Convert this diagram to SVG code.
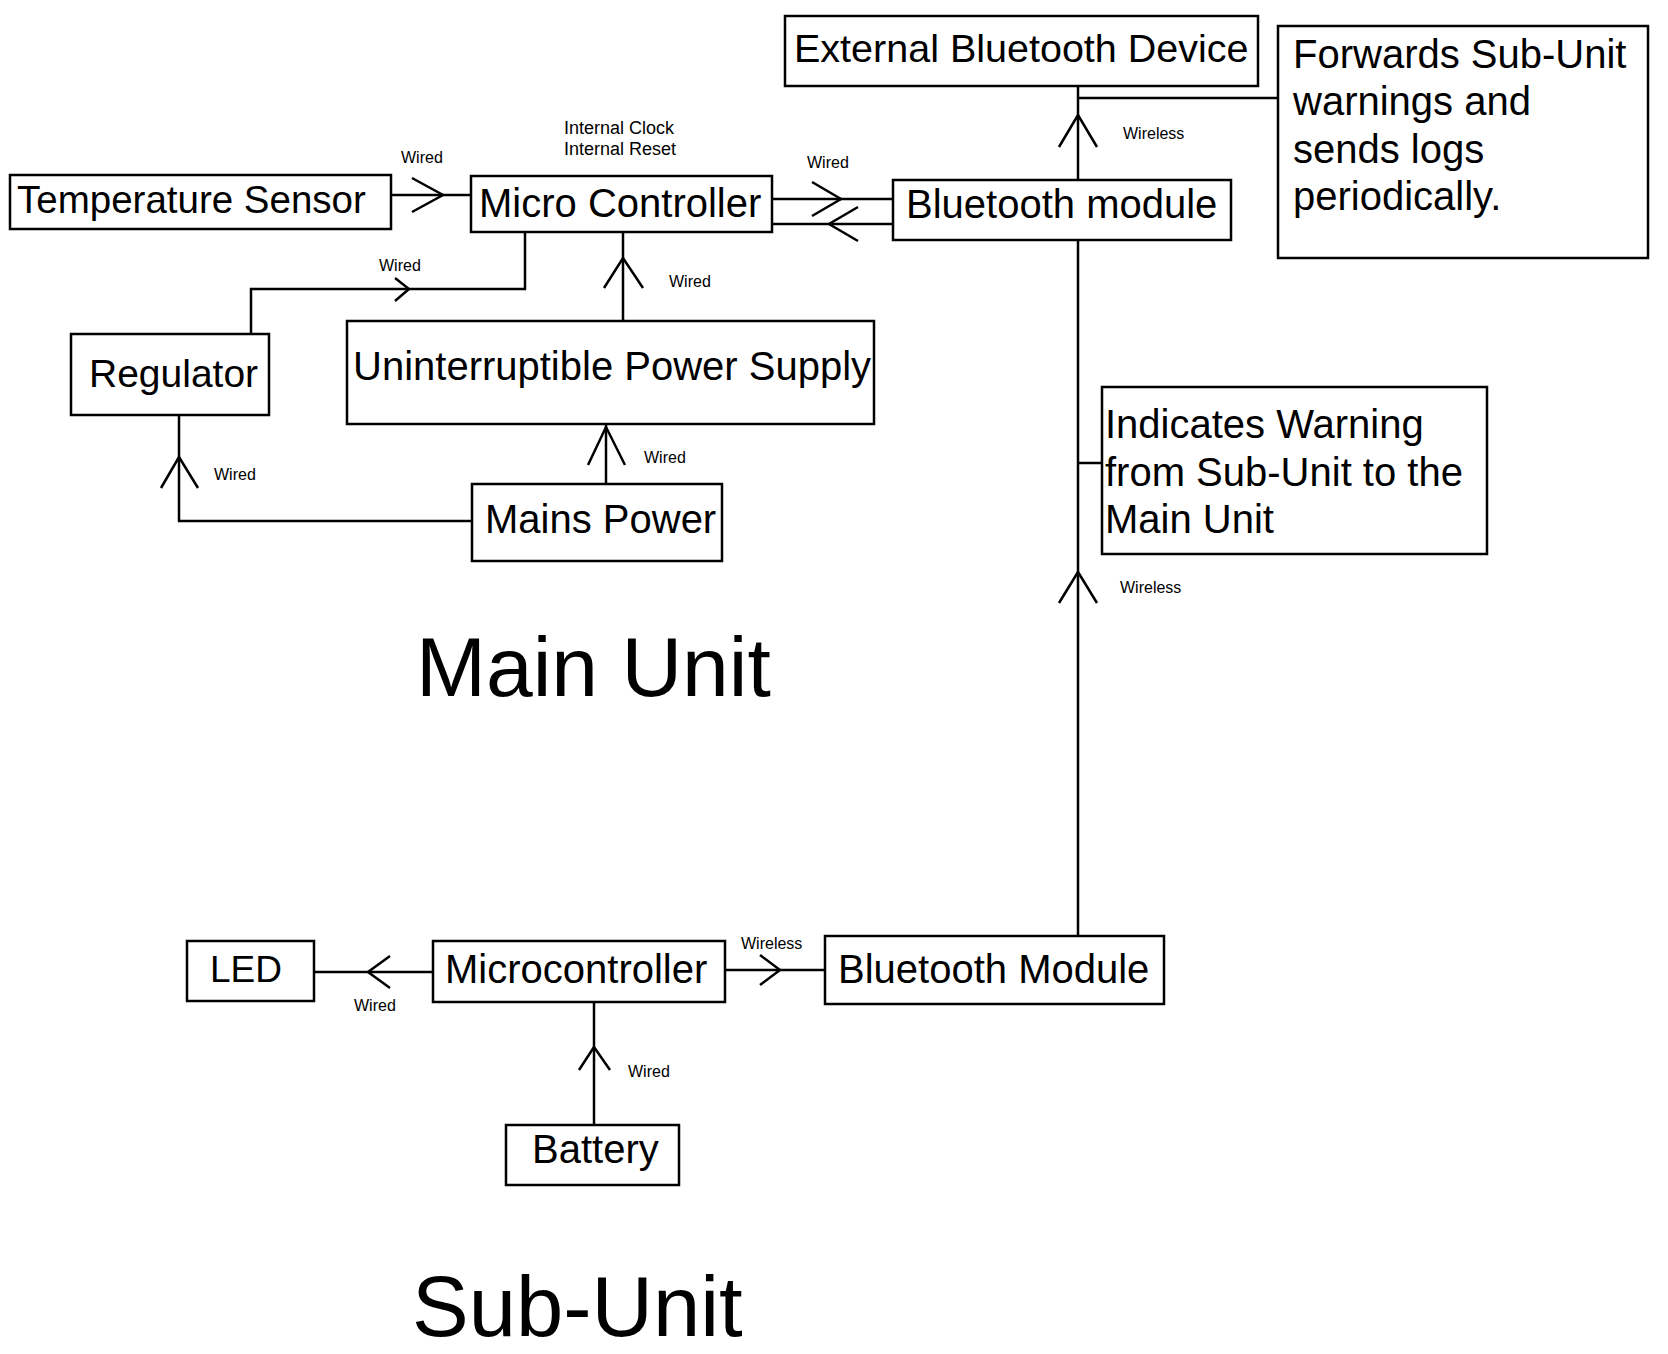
<svg xmlns="http://www.w3.org/2000/svg" width="1668" height="1354" viewBox="0 0 1668 1354">
<style>
.box{fill:#fff;stroke:#000;stroke-width:2.5}
.ln{fill:none;stroke:#000;stroke-width:2.5}
.ah{fill:none;stroke:#000;stroke-width:2.5;stroke-linejoin:miter}
text{font-family:"Liberation Sans",Arial,Helvetica,sans-serif;fill:#000}
.t{font-size:40px}
.s{font-size:16px}
.c{font-size:18px}
.big{font-size:84px}
</style>
<rect width="1668" height="1354" fill="#fff"/>
<g id="connectors">
<line class="ln" x1="391" y1="195" x2="471" y2="195"/>
<polyline class="ah" points="412,178 443,195 412,212"/>
<text class="s" x="401" y="163">Wired</text>
<line class="ln" x1="772" y1="199" x2="893" y2="199"/>
<polyline class="ah" points="812,182 841,199 812,216"/>
<line class="ln" x1="772" y1="224" x2="893" y2="224"/>
<polyline class="ah" points="858,207 829,224 858,241"/>
<text class="s" x="807" y="168">Wired</text>
<polyline class="ln" points="251,334 251,289 525,289 525,232"/>
<polyline class="ah" points="395,278 409,289 395,301"/>
<text class="s" x="379" y="271">Wired</text>
<line class="ln" x1="623" y1="321" x2="623" y2="232"/>
<polyline class="ah" points="604,288 623,258 643,288"/>
<text class="s" x="669" y="287">Wired</text>
<line class="ln" x1="606" y1="484" x2="606" y2="424"/>
<polyline class="ah" points="588,465 606,427 625,465"/>
<text class="s" x="644" y="463">Wired</text>
<polyline class="ln" points="472,521 179,521 179,415"/>
<polyline class="ah" points="161,488 179,457 198,488"/>
<text class="s" x="214" y="480">Wired</text>
<line class="ln" x1="1078" y1="180" x2="1078" y2="86"/>
<polyline class="ah" points="1059,147 1078,115 1097,147"/>
<text class="s" x="1123" y="139">Wireless</text>
<line class="ln" x1="1078" y1="98" x2="1278" y2="98"/>
<line class="ln" x1="1078" y1="936" x2="1078" y2="240"/>
<polyline class="ah" points="1059,603 1078,572 1097,603"/>
<text class="s" x="1120" y="593">Wireless</text>
<line class="ln" x1="1078" y1="463" x2="1102" y2="463"/>
<line class="ln" x1="314" y1="972" x2="433" y2="972"/>
<polyline class="ah" points="390,956 368,972 390,988"/>
<text class="s" x="354" y="1011">Wired</text>
<line class="ln" x1="725" y1="970" x2="825" y2="970"/>
<polyline class="ah" points="760,955 780,970 760,985"/>
<text class="s" x="741" y="949">Wireless</text>
<line class="ln" x1="594" y1="1125" x2="594" y2="1002"/>
<polyline class="ah" points="579,1070 594,1047 610,1070"/>
<text class="s" x="628" y="1077">Wired</text>
</g>
<g id="temperature-sensor">
<rect class="box" x="10" y="175" width="381" height="54"/>
<text class="t" x="17" y="213" style="font-size:38.5px">Temperature Sensor</text>
</g>
<g id="micro-controller">
<rect class="box" x="471" y="176" width="301" height="56"/>
<text class="t" x="479" y="217">Micro Controller</text>
<text class="c" x="564" y="134">Internal Clock</text>
<text class="c" x="564" y="155">Internal Reset</text>
</g>
<g id="external-bluetooth-device">
<rect class="box" x="785" y="16" width="473" height="70"/>
<text class="t" x="794" y="62" style="font-size:39.5px">External Bluetooth Device</text>
</g>
<g id="forwards-note">
<rect class="box" x="1278" y="26" width="370" height="232"/>
<text class="t" x="1293" y="68">Forwards Sub-Unit</text>
<text class="t" x="1293" y="115">warnings and</text>
<text class="t" x="1293" y="163">sends logs</text>
<text class="t" x="1293" y="210">periodically.</text>
</g>
<g id="bluetooth-module-main">
<rect class="box" x="893" y="180" width="338" height="60"/>
<text class="t" x="906" y="218">Bluetooth module</text>
</g>
<g id="regulator">
<rect class="box" x="71" y="334" width="198" height="81"/>
<text class="t" x="89" y="387" style="font-size:39px">Regulator</text>
</g>
<g id="ups">
<rect class="box" x="347" y="321" width="527" height="103"/>
<text class="t" x="353" y="380">Uninterruptible Power Supply</text>
</g>
<g id="mains-power">
<rect class="box" x="472" y="484" width="250" height="77"/>
<text class="t" x="485" y="533">Mains Power</text>
</g>
<g id="indicates-note">
<rect class="box" x="1102" y="387" width="385" height="167"/>
<text class="t" x="1105" y="438">Indicates Warning</text>
<text class="t" x="1105" y="486">from Sub-Unit to the</text>
<text class="t" x="1105" y="533">Main Unit</text>
</g>
<g id="main-unit-title">
<text class="big" x="416" y="696">Main Unit</text>
</g>
<g id="led">
<rect class="box" x="187" y="941" width="127" height="60"/>
<text class="t" x="210" y="982" style="font-size:37px">LED</text>
</g>
<g id="microcontroller-sub">
<rect class="box" x="433" y="941" width="292" height="61"/>
<text class="t" x="445" y="983">Microcontroller</text>
</g>
<g id="bluetooth-module-sub">
<rect class="box" x="825" y="936" width="339" height="68"/>
<text class="t" x="838" y="983">Bluetooth Module</text>
</g>
<g id="battery">
<rect class="box" x="506" y="1125" width="173" height="60"/>
<text class="t" x="532" y="1163">Battery</text>
</g>
<g id="sub-unit-title">
<text class="big" x="412" y="1336" style="font-size:85px">Sub-Unit</text>
</g>
</svg>
